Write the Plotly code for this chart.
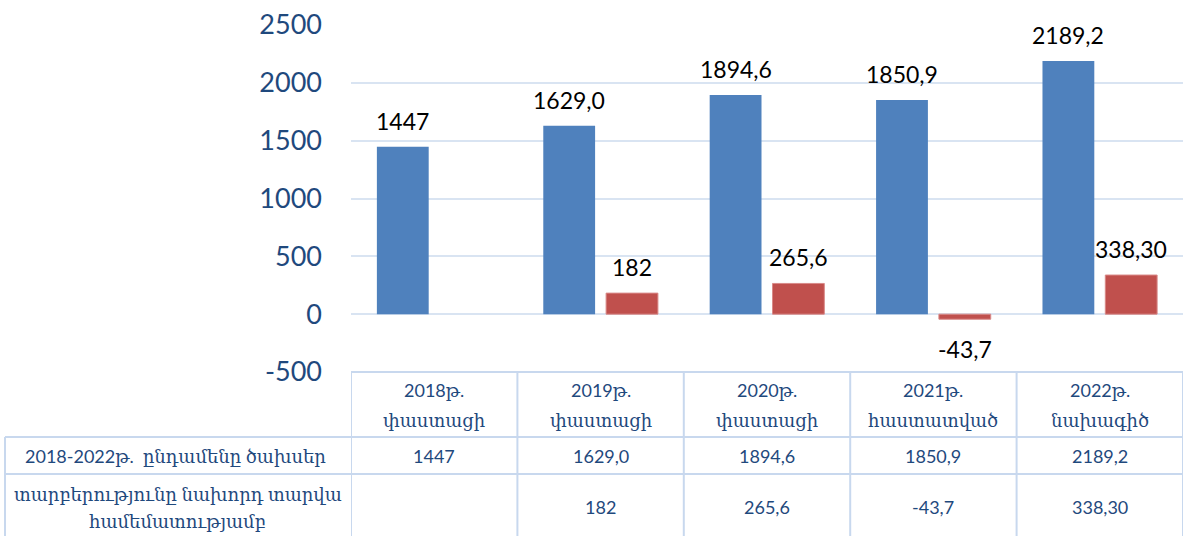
import plotly.graph_objects as go

# Budget spending, 2018-2022, and change versus previous year
year_labels = ["2018թ.", "2019թ.", "2020թ.", "2021թ.", "2022թ."]
status_labels = ["փաստացի", "փաստացի", "փաստացի", "հաստատված", "նախագիծ"]
total_spending = [1447, 1629.0, 1894.6, 1850.9, 2189.2]
total_text = ["1447", "1629,0", "1894,6", "1850,9", "2189,2"]
change_prev = [None, 182, 265.6, -43.7, 338.30]
change_text = ["", "182", "265,6", "-43,7", "338,30"]
row_title_total = "2018-2022թ.  ընդամենը ծախսեր"
row_title_change = ["տարբերությունը նախորդ տարվա", "համեմատությամբ"]
y_ticks = [-500, 0, 500, 1000, 1500, 2000, 2500]

W, H = 1185, 536
BLUE = "#4F81BD"
RED = "#C0504D"
TICK_BLUE = "#1F497D"
GRID = "#D9E4F2"
TABLE_LINE = "#C8D8EE"
FONT = "Lato, 'DejaVu Serif', 'DejaVu Sans', sans-serif"

x_idx = list(range(len(year_labels)))

# plot area in pixels
PL, PR, PT, PB = 351, 1183, 25, 372


def fy(px):
    return 1 - px / H


def fx(px):
    return px / W


fig = go.Figure()
fig.add_trace(go.Bar(x=x_idx, y=total_spending, marker=dict(color=BLUE, line=dict(width=0)),
                     name="total", hoverinfo="y"))
fig.add_trace(go.Bar(x=x_idx, y=change_prev,
                     marker=dict(color=RED, line=dict(width=1, color="#D98A88")),
                     name="change", hoverinfo="y"))

BAR_SHIFT = 31.5
annotations = []
# value labels above/below bars
for i, (v, t) in enumerate(zip(total_spending, total_text)):
    annotations.append(dict(x=i, y=v, xref="x", yref="y", text=t, showarrow=False,
                            xshift=-BAR_SHIFT, yanchor="bottom", yshift=10,
                            font=dict(size=23, color="#000000", family=FONT)))
for i, (v, t) in enumerate(zip(change_prev, change_text)):
    if v is None:
        continue
    annotations.append(dict(x=i, y=v, xref="x", yref="y", text=t, showarrow=False,
                            xshift=BAR_SHIFT, yanchor="bottom" if v >= 0 else "top",
                            yshift=10 if v >= 0 else -14,
                            font=dict(size=23, color="#000000", family=FONT)))

# data table under the chart
tfont = dict(size=18, color=TICK_BLUE, family=FONT)
for i in x_idx:
    annotations.append(dict(x=i, y=fy(390), xref="x", yref="paper", text=year_labels[i],
                            showarrow=False, xanchor="center", yanchor="middle", font=tfont))
    annotations.append(dict(x=i, y=fy(420), xref="x", yref="paper", text=status_labels[i],
                            showarrow=False, xanchor="center", yanchor="middle", font=tfont))
    annotations.append(dict(x=i, y=fy(456), xref="x", yref="paper", text=total_text[i],
                            showarrow=False, xanchor="center", yanchor="middle", font=tfont))
    annotations.append(dict(x=i, y=fy(507), xref="x", yref="paper", text=change_text[i],
                            showarrow=False, xanchor="center", yanchor="middle", font=tfont))
annotations.append(dict(x=fx(175), y=fy(456), xref="paper", yref="paper", text=row_title_total,
                        showarrow=False, xanchor="center", yanchor="middle", font=tfont))
annotations.append(dict(x=fx(178), y=fy(494), xref="paper", yref="paper", text=row_title_change[0],
                        showarrow=False, xanchor="center", yanchor="middle", font=tfont))
annotations.append(dict(x=fx(178), y=fy(521), xref="paper", yref="paper", text=row_title_change[1],
                        showarrow=False, xanchor="center", yanchor="middle", font=tfont))

shapes = []
line = dict(color=TABLE_LINE, width=2)
shapes.append(dict(type="line", xref="paper", yref="paper", x0=fx(PL), x1=fx(PR),
                   y0=fy(372), y1=fy(372), line=line))
for ypx in (437, 474):
    shapes.append(dict(type="line", xref="paper", yref="paper", x0=fx(5), x1=fx(PR),
                       y0=fy(ypx), y1=fy(ypx), line=line))
shapes.append(dict(type="line", xref="paper", yref="paper", x0=fx(5), x1=fx(5),
                   y0=fy(437), y1=0, line=line))
for k in range(len(year_labels) + 1):
    shapes.append(dict(type="line", xref="x", yref="paper", x0=k - 0.5, x1=k - 0.5,
                       y0=fy(372), y1=0, line=line))

fig.update_layout(
    width=W, height=H,
    margin=dict(l=0, r=0, t=0, b=0, autoexpand=False),
    paper_bgcolor="white", plot_bgcolor="white",
    barmode="group", bargap=0.245, bargroupgap=0.175,
    showlegend=False,
    font=dict(family=FONT),
    annotations=annotations,
    shapes=shapes,
    xaxis=dict(domain=[fx(PL), fx(PR)], range=[-0.5, len(year_labels) - 0.5],
               showticklabels=False, showgrid=False, zeroline=False, showline=False),
    yaxis=dict(domain=[fy(PB), fy(PT)], range=[-500, 2500], tickvals=y_ticks,
               ticktext=[str(v) for v in y_ticks],
               tickfont=dict(size=27, color=TICK_BLUE, family=FONT),
               showgrid=True, gridcolor=GRID, gridwidth=2,
               zeroline=True, zerolinecolor=GRID, zerolinewidth=2,
               showline=False, ticks="", ticklabelstandoff=28, automargin=False),
)

fig.write_html("out.html")
